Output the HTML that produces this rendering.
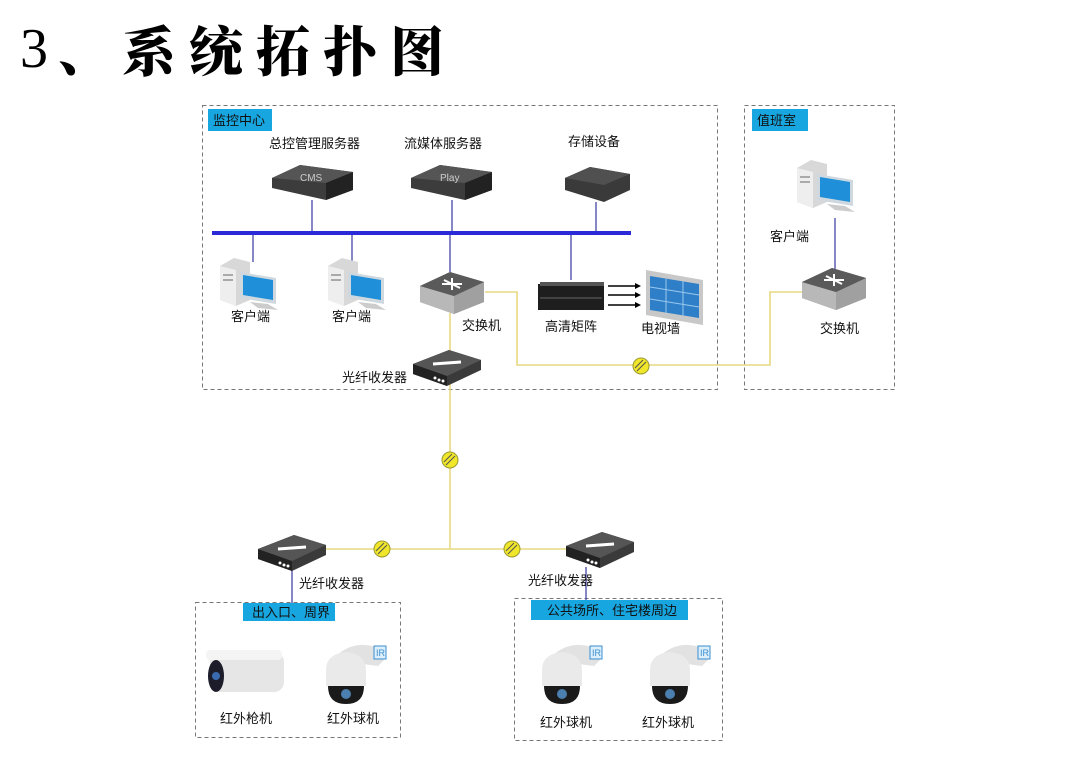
<!DOCTYPE html>
<html><head><meta charset="utf-8"><style>
html,body{margin:0;padding:0;background:#fff;}
body{width:1092px;height:758px;overflow:hidden;position:relative;}
svg{position:absolute;left:0;top:0;}
text{font-family:"Liberation Sans","Noto Sans CJK SC",sans-serif;font-size:13px;fill:#111;}
.t3{position:absolute;left:20px;top:14px;font-family:"Liberation Serif",serif;font-size:56px;color:#000;line-height:70px;}
.t{position:absolute;left:122px;top:16px;font-family:"Noto Serif CJK SC",serif;font-size:54px;font-weight:900;color:#000;letter-spacing:13px;line-height:66px;}
.dun{position:absolute;left:58px;top:14px;font-family:"Noto Serif CJK SC",serif;font-size:54px;font-weight:900;line-height:70px;}
</style></head><body>
<div class="t3">3</div><div class="dun">、</div>
<div class="t">系统拓扑图</div>
<svg width="1092" height="758" viewBox="0 0 1092 758">
<defs>
<g id="pc">
 <polygon points="0,8 14,0 30,4 30,42 16,48 0,42" fill="#d8d8d8"/>
 <polygon points="0,8 16,12 16,48 0,42" fill="#eee"/>
 <rect x="3" y="16" width="10" height="2" fill="#aaa"/><rect x="3" y="21" width="10" height="2" fill="#aaa"/>
 <polygon points="20,14 56,20 56,46 20,40" fill="#cfd8df"/>
 <polygon points="23,17 53,22 53,42 23,37" fill="#1e8fd8"/>
 <polygon points="30,44 48,46 58,52 38,50" fill="#ccc"/>
</g>
<g id="sw">
 <polygon points="0,14 30,0 64,10 64,30 34,42 0,30" fill="#8a8a8a"/>
 <polygon points="0,14 34,24 34,42 0,30" fill="#b8b8b8"/>
 <polygon points="34,24 64,10 64,30 34,42" fill="#a0a0a0"/>
 <polygon points="0,14 30,0 64,10 34,24" fill="#5a5a5a"/>
 <path d="M22,12 L42,12 M32,6 L32,18 M24,8 L40,16" stroke="#fff" stroke-width="2" fill="none"/>
</g>
<g id="fc">
 <polygon points="0,14 36,0 68,10 68,20 34,36 0,24" fill="#3a3a3a"/>
 <polygon points="0,14 34,26 34,36 0,24" fill="#222"/>
 <polygon points="0,14 36,0 68,10 34,26" fill="#555"/>
 <path d="M20,14 L48,12" stroke="#fff" stroke-width="3"/>
 <circle cx="22" cy="28" r="1.5" fill="#fff"/><circle cx="26" cy="30" r="1.5" fill="#fff"/><circle cx="30" cy="31" r="1.5" fill="#fff"/>
</g>
<g id="dome">
 <path d="M10,20 Q30,-2 56,8 L62,20 L56,26 Z" fill="#e2e2e2"/>
 <rect x="52" y="6" width="12" height="13" fill="#dceefa" stroke="#3a8fd0"/>
 <text x="54" y="16" style="font-size:9px;fill:#3a8fd0">IR</text>
 <path d="M4,30 Q4,14 24,12 Q44,14 44,30 L44,46 L4,46 Z" fill="#eaeaea"/>
 <path d="M6,46 L42,46 Q42,64 24,64 Q6,64 6,46 Z" fill="#1a1a1a"/>
 <circle cx="24" cy="54" r="5" fill="#4a7fb0"/>
</g>
<g id="yc">
 <circle r="8" fill="#f0e62a" stroke="#9a9a30"/>
 <path d="M-6,2 L2,-6 M-4,5 L5,-4" stroke="#555" stroke-width="1"/>
</g>
</defs>
<g fill="none" stroke="#777" stroke-dasharray="4,3">
<rect x="202.5" y="105.5" width="515" height="284"/>
<rect x="744.5" y="105.5" width="150" height="284"/>
<rect x="195.5" y="602.5" width="205" height="135"/>
<rect x="514.5" y="598.5" width="208" height="142"/>
</g>
<rect x="208" y="109" width="64" height="22" fill="#18a6e0"/>
<text x="213" y="125" style="fill:#111">监控中心</text>
<rect x="752" y="109" width="56" height="22" fill="#18a6e0"/>
<text x="757" y="125">值班室</text>
<rect x="243" y="603" width="92" height="18" fill="#18a6e0"/>
<text x="252" y="617">出入口、周界</text>
<rect x="531" y="600" width="157" height="20" fill="#18a6e0"/>
<text x="547" y="615">公共场所、住宅楼周边</text>
<g stroke="#e8d880" stroke-width="1.6" fill="none">
<path d="M485,292 L517,292 L517,365 L770,365 L770,292 L802,292"/>
<path d="M450,313 L450,549"/>
<path d="M325,549 L568,549"/>
</g>
<g stroke="#4646a8" stroke-width="1.3">
<path d="M312,200V233M452,200V233M596,202V233M253,233V262M352,233V262M450,233V272M571,233V280M835,218V270M292,568V603M586,567V600"/>
</g>
<line x1="212" y1="233" x2="631" y2="233" stroke="#2a2ad8" stroke-width="4"/>
<g>
<polygon points="272,178 300,165 353,172 353,190 326,200 272,188" fill="#3c3c3c"/>
<polygon points="272,178 300,165 353,172 326,183" fill="#555"/>
<polygon points="326,183 353,172 353,190 326,200" fill="#222"/>
<text x="300" y="181" style="font-size:10px;fill:#ccc">CMS</text>
<polygon points="411,178 440,165 492,172 492,190 465,200 411,188" fill="#3c3c3c"/>
<polygon points="411,178 440,165 492,172 465,183" fill="#555"/>
<polygon points="465,183 492,172 492,190 465,200" fill="#222"/>
<text x="440" y="181" style="font-size:10px;fill:#ccc">Play</text>
<polygon points="565,178 590,167 630,174 630,190 604,202 565,190" fill="#3a3a3a"/>
<polygon points="565,178 590,167 630,174 604,185" fill="#505050"/>
</g>
<text x="269" y="148">总控管理服务器</text>
<text x="404" y="148">流媒体服务器</text>
<text x="568" y="146">存储设备</text>
<use href="#pc" x="220" y="258"/>
<use href="#pc" x="328" y="258"/>
<use href="#pc" x="800" y="152" transform="translate(-80,-12) scale(1.1)" style="display:none"/>
<use href="#pc" x="797" y="160"/>
<text x="231" y="321">客户端</text>
<text x="332" y="321">客户端</text>
<text x="770" y="241">客户端</text>
<use href="#sw" x="420" y="272"/>
<use href="#sw" x="802" y="268"/>
<text x="462" y="330">交换机</text>
<text x="820" y="333">交换机</text>
<rect x="538" y="284" width="66" height="26" fill="#1e1e1e"/>
<rect x="540" y="282" width="64" height="4" fill="#555"/>
<line x1="540" y1="298" x2="602" y2="298" stroke="#666"/>
<text x="545" y="331">高清矩阵</text>
<g stroke="#000" stroke-width="1.5"><path d="M608,286H636M608,295H636M608,305H636"/></g>
<g fill="#000"><path d="M641,286l-6,-3v6zM641,295l-6,-3v6zM641,305l-6,-3v6z"/></g>
<polygon points="646,270 703,280 703,325 646,315" fill="#c8c8c8"/>
<polygon points="650,276 699,284 699,318 650,310" fill="#2f7fc8"/>
<g stroke="#9ac8ee" stroke-width="1"><path d="M666,279V313M683,281V316M650,287L699,295M650,299L699,307"/></g>
<text x="641" y="333">电视墙</text>
<use href="#fc" x="413" y="350"/>
<text x="342" y="382">光纤收发器</text>
<use href="#fc" x="258" y="535"/>
<text x="299" y="588">光纤收发器</text>
<use href="#fc" x="566" y="532"/>
<text x="528" y="585">光纤收发器</text>
<use href="#yc" x="641" y="366"/>
<use href="#yc" x="450" y="460"/>
<use href="#yc" x="382" y="549"/>
<use href="#yc" x="512" y="549"/>
<g>
<rect x="210" y="652" width="74" height="40" rx="10" fill="#e6e6e6"/>
<rect x="206" y="650" width="76" height="10" rx="4" fill="#f4f4f4"/>
<ellipse cx="216" cy="676" rx="8" ry="16" fill="#1c1c2a"/>
<circle cx="216" cy="676" r="4" fill="#3a6ab0"/>
</g>
<text x="220" y="723">红外枪机</text>
<use href="#dome" x="322" y="640"/>
<text x="327" y="723">红外球机</text>
<use href="#dome" x="538" y="640"/>
<text x="540" y="727">红外球机</text>
<use href="#dome" x="646" y="640"/>
<text x="642" y="727">红外球机</text>
</svg>
</body></html>
